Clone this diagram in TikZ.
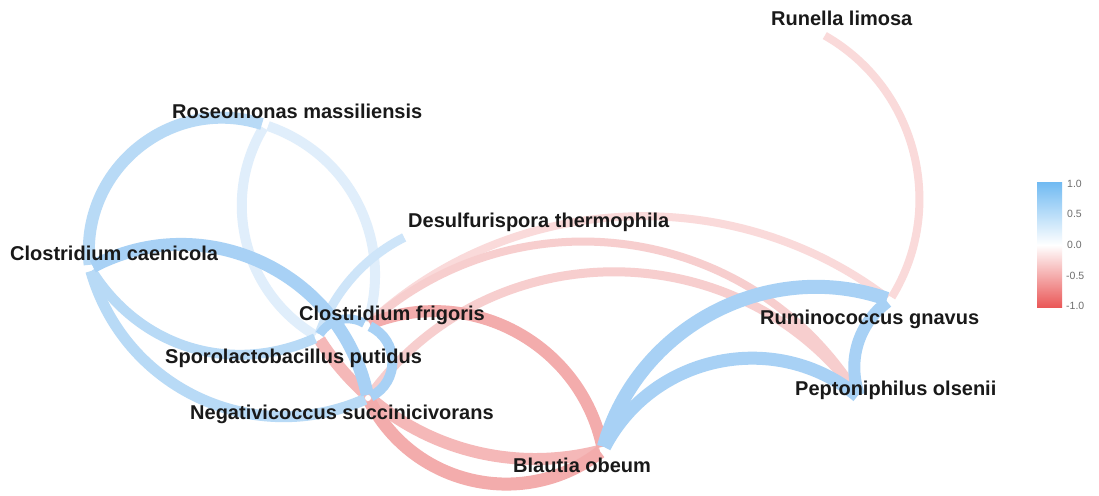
\documentclass[tikz,border=0pt]{standalone}
\usepackage{fontspec}
\setmainfont{Liberation Sans}
\definecolor{rfaint}{RGB}{250,218,218}
\definecolor{rlight}{RGB}{247,206,206}
\definecolor{rmid}{RGB}{245,184,184}
\definecolor{rstrong}{RGB}{243,172,172}
\definecolor{bfaint}{RGB}{224,238,251}
\definecolor{blight}{RGB}{206,229,249}
\definecolor{bmid}{RGB}{184,218,246}
\definecolor{bstrong}{RGB}{168,209,245}
\definecolor{labelink}{RGB}{25,25,25}
\definecolor{ticklab}{RGB}{110,110,110}
\definecolor{scaletop}{RGB}{112,186,242}
\definecolor{scalebot}{RGB}{234,88,88}
\begin{document}
\begin{tikzpicture}[x=1pt,y=-1pt,
  vtx/.style={circle,fill=white,inner sep=0pt,minimum size=6pt},
  lbl/.style={font=\fontsize{20}{23}\selectfont\bfseries,text=labelink,inner sep=0pt,anchor=base west},
  tick/.style={font=\fontsize{10.5}{12}\selectfont,text=ticklab,inner sep=0pt,anchor=west},
  link/.style={line cap=butt}]
\useasboundingbox (0,0) rectangle (1099,495);
\fill[white] (0,0) rectangle (1099,495);

% vertices
\node[vtx] (R) at (822,34) {};
\node[vtx] (M) at (265,125) {};
\node[vtx] (D) at (407,236) {};
\node[vtx] (C) at (90,268) {};
\node[vtx] (F) at (367,325) {};
\node[vtx] (S) at (318,337) {};
\node[vtx] (N) at (368,398) {};
\node[vtx] (B) at (603,450) {};
\node[vtx] (G) at (890,300) {};
\node[vtx] (P) at (860,398) {};

% weak correlations
\draw[link,bfaint,line width=10pt] (M) to[bend right=45] (S);
\draw[link,bfaint,line width=10pt] (M) to[bend left=44] (F);
\draw[link,blight,line width=9pt] (D) to[bend right=22,looseness=0.88] (S);
\draw[link,rfaint,line width=8pt] (R) to[bend left=46] (G);
\draw[link,rfaint,line width=8pt] (F) to[bend left=40,looseness=0.96] (G);
\draw[link,rlight,line width=8pt] (F) to[bend left=50,looseness=1.04] (P);
\draw[link,rlight,line width=9pt] (N) to[bend left=54,looseness=1.07] (P);

% negative correlations
\draw[link,rmid,line width=12pt] (S) to[bend right=36,looseness=0.95] (B);
\draw[link,rstrong,line width=12pt] (F) to[bend left=50,looseness=1.04] (B);
\draw[link,rstrong,line width=13pt] (N) to[bend right=50,looseness=1.04] (B);

% positive correlations
\draw[link,bmid,line width=12pt] (C) to[bend left=57,looseness=1.1] (M);
\draw[link,bmid,line width=10pt] (C) to[bend right=41] (S);
\draw[link,bmid,line width=11pt] (C) to[bend right=49,looseness=1.03] (N);
\draw[link,bstrong,line width=13pt] (C) to[bend left=53,looseness=1.06] (N);
\draw[link,bstrong,line width=9pt] (S) to[bend left=44] (F);
\draw[link,bstrong,line width=10pt] (F) to[bend left=64,looseness=1.19] (N);
\draw[link,bstrong,line width=14pt] (B) to[bend left=47] (G);
\draw[link,bstrong,line width=13pt] (B) to[bend left=51,looseness=1.04] (P);
\draw[link,bstrong,line width=12pt] (G) to[bend right=36,looseness=0.96] (P);

% vertex dots on top of the edges
\foreach \v in {R,M,D,C,F,S,N,B,G,P} \fill[white] (\v) circle (3pt);

% taxon labels
\node[lbl] (Rl) at (771,26) {Runella limosa};
\node[lbl] (Ml) at (172,118) {Roseomonas massiliensis};
\node[lbl] (Dl) at (408,227) {Desulfurispora thermophila};
\node[lbl] (Cl) at (10,260) {Clostridium caenicola};
\node[lbl] (Fl) at (299,320) {Clostridium frigoris};
\node[lbl] (Gl) at (760,324) {Ruminococcus gnavus};
\node[lbl] (Sl) at (165,363) {Sporolactobacillus putidus};
\node[lbl] (Pl) at (795,395) {Peptoniphilus olsenii};
\node[lbl] (Nl) at (190,419) {Negativicoccus succinicivorans};
\node[lbl] (Bl) at (513,472) {Blautia obeum};

% colour bar
\shade[top color=scaletop,bottom color=white] (1037,182) rectangle (1062,245);
\shade[top color=white,bottom color=scalebot] (1037,245) rectangle (1062,307);
\node[tick] (t1) at (1067,184) {1.0};
\node[tick] (t2) at (1067,214) {0.5};
\node[tick] (t3) at (1067,245) {0.0};
\node[tick] (t4) at (1066,276) {-0.5};
\node[tick] (t5) at (1066,306) {-1.0};
\end{tikzpicture}
\end{document}
